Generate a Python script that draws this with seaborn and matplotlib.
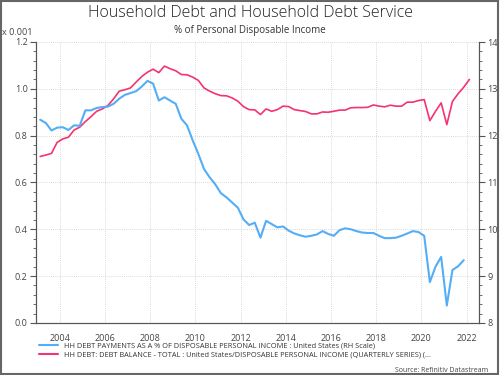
import matplotlib
matplotlib.use("Agg")
import matplotlib.pyplot as plt
import seaborn as sns
import pandas as pd
from matplotlib.ticker import MultipleLocator, FormatStrFormatter
from matplotlib.patches import Rectangle

# quarterly data, 2003 Q1 onwards
debt_balance = [  # left scale (x 0.001)
    0.711, 0.717, 0.724, 0.771, 0.786, 0.793, 0.824, 0.836, 0.860, 0.881,
    0.904, 0.914, 0.929, 0.957, 0.990, 0.996, 1.004, 1.029, 1.053, 1.071,
    1.084, 1.069, 1.097, 1.086, 1.077, 1.061, 1.060, 1.050, 1.036, 1.004,
    0.990, 0.979, 0.971, 0.970, 0.961, 0.947, 0.924, 0.911, 0.910, 0.890,
    0.914, 0.904, 0.911, 0.926, 0.924, 0.911, 0.907, 0.903, 0.893, 0.893,
    0.901, 0.900, 0.904, 0.909, 0.909, 0.919, 0.920, 0.920, 0.921, 0.931,
    0.926, 0.923, 0.930, 0.926, 0.926, 0.943, 0.943, 0.950, 0.954, 0.864,
    0.904, 0.940, 0.847, 0.946, 0.979, 1.007, 1.040,
]
debt_payments = [  # right scale, %
    12.34, 12.27, 12.11, 12.17, 12.18, 12.12, 12.22, 12.21, 12.54, 12.54,
    12.59, 12.61, 12.62, 12.68, 12.79, 12.87, 12.91, 12.95, 13.05, 13.17,
    13.11, 12.75, 12.82, 12.75, 12.68, 12.36, 12.22, 11.90, 11.61, 11.29,
    11.11, 10.96, 10.77, 10.68, 10.57, 10.46, 10.21, 10.09, 10.14, 9.82,
    10.18, 10.11, 10.04, 10.06, 9.97, 9.91, 9.87, 9.84, 9.86, 9.89,
    9.96, 9.90, 9.86, 9.98, 10.02, 10.00, 9.96, 9.93, 9.92, 9.92,
    9.86, 9.81, 9.81, 9.82, 9.86, 9.91, 9.96, 9.94, 9.86, 8.87,
    9.20, 9.41, 8.37, 9.13, 9.21, 9.34,
]
quarters = pd.period_range("2003Q1", periods=len(debt_balance), freq="Q")
year_ticks = list(range(2004, 2023, 2))

label_blue = "HH DEBT PAYMENTS AS A % OF DISPOSABLE PERSONAL INCOME : United States (RH Scale)"
label_pink = "HH DEBT: DEBT BALANCE - TOTAL : United States/DISPOSABLE PERSONAL INCOME (QUARTERLY SERIES) (..."

t = quarters.year + (quarters.quarter - 1) / 4 + 0.125
df_bal = pd.DataFrame({"t": t, "v": debt_balance})
df_pay = pd.DataFrame({"t": t[:len(debt_payments)], "v": debt_payments})

BLUE = "#55aef5"
PINK = "#f4336f"
TXT = "#444444"

sns.set_style("white")
plt.rcParams["font.family"] = ["Open Sans", "DejaVu Sans"]

fig = plt.figure(figsize=(5, 3.75), dpi=100)
ax = fig.add_axes([0.072, 0.139, 0.886, 0.749])
ax2 = ax.twinx()

sns.lineplot(data=df_bal, x="t", y="v", ax=ax, color=PINK, linewidth=1.2)
sns.lineplot(data=df_pay, x="t", y="v", ax=ax2, color=BLUE, linewidth=1.5)

ax.set_xlim(2002.94, 2022.55)
ax.set_ylim(0, 1.2)
ax2.set_ylim(8, 14)
ax.set_xlabel("")
ax.set_ylabel("")
ax2.set_ylabel("")

ax.set_xticks(year_ticks)
ax.xaxis.set_minor_locator(MultipleLocator(0.5))
ax.yaxis.set_major_locator(MultipleLocator(0.2))
ax.yaxis.set_minor_locator(MultipleLocator(0.04))
ax.yaxis.set_major_formatter(FormatStrFormatter("%.1f"))
ax2.yaxis.set_major_locator(MultipleLocator(1))
ax2.yaxis.set_minor_locator(MultipleLocator(0.2))

for a in (ax, ax2):
    a.tick_params(axis="both", which="major", direction="out", length=4, width=0.8,
                  color="#555555", labelsize=6.5, labelcolor=TXT, pad=2)
    a.tick_params(axis="both", which="minor", direction="out", length=2, width=0.6,
                  color="#555555")
    for s in a.spines.values():
        s.set_color("#555555")
        s.set_linewidth(0.8)
    a.spines["top"].set_visible(False)
ax.tick_params(axis="x", which="major", pad=4)

ax.grid(True, which="major", linestyle=(0, (1, 1.5)), color="#cccccc", linewidth=0.6)
ax.set_axisbelow(True)

fig.text(0.5, 0.966, "Household Debt and Household Debt Service", ha="center", va="center",
         fontsize=11.5, color="#222222", fontweight="light")
fig.text(0.5, 0.918, "% of Personal Disposable Income", ha="center", va="center",
         fontsize=7, color="#333333")
fig.text(0.004, 0.913, "x 0.001", ha="left", va="center", fontsize=6.5, color=TXT)
fig.text(0.976, 0.011, "Source: Refinitiv Datastream", ha="right", va="center",
         fontsize=5, color=TXT)

handles = [plt.Line2D([], [], color=BLUE, linewidth=1.5),
           plt.Line2D([], [], color=PINK, linewidth=1.5)]
fig.legend(handles, [label_blue, label_pink], loc="upper left",
           bbox_to_anchor=(0.078, 0.087), frameon=False, fontsize=5.3,
           labelcolor="#333333", handlelength=2.6, handletextpad=0.8,
           labelspacing=0.3, borderaxespad=0, borderpad=0)

fig.patches.append(Rectangle((0.002, 0.003), 0.994, 0.994, transform=fig.transFigure,
                             fill=False, edgecolor="#666666", linewidth=1.5))

fig.savefig("out.png", dpi=100)
